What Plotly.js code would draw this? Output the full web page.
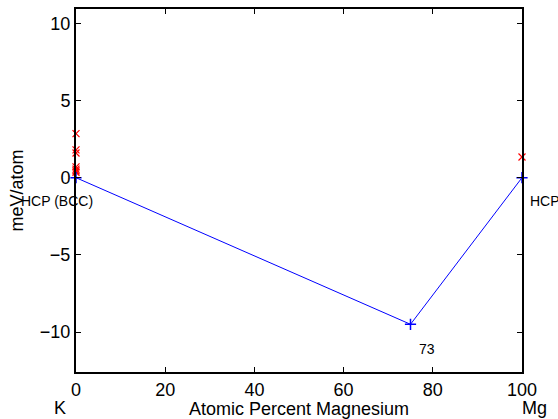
<!DOCTYPE html>
<html>
<head>
<meta charset="utf-8">
<script src="https://cdn.plot.ly/plotly-3.0.1.min.js"></script>
<style>html,body{margin:0;padding:0;background:#fff;}#chart{width:558px;height:419px;}</style>
</head>
<body>
<div id="chart"></div>
<script>
// Convex hull (ground-state line)
const hullX = [0, 75, 100];
const hullY = [0, -9.5, 0];
// Other computed structures (above hull)
const otherX = [0, 0, 0, 0, 0, 0, 0, 100];
const otherY = [2.85, 1.8, 1.6, 0.7, 0.55, 0.45, 0.35, 1.34];
// Labels
const hullLabels = ["HCP (BCC)", "73", "HCP"];
const labelX = [-12.6, 78.6, 101.6];
const labelY = [-1.52, -11.1, -1.52];
const endLabels = ["K", "Mg"];
const endLabelX = [-3.6, 102.9];
const xTicks = [0, 20, 40, 60, 80, 100];
const yTicks = [-10, -5, 0, 5, 10];
const xMin = 0, xMax = 100;

const font = "Liberation Sans, Arial, Helvetica, sans-serif";
const toPaper = v => (v - xMin) / (xMax - xMin);

const traces = [
  {
    x: otherX, y: otherY, mode: "markers", type: "scatter",
    marker: {symbol: "x-thin", size: 7, line: {color: "#ff0000", width: 1.2}},
    cliponaxis: false, hoverinfo: "skip"
  },
  {
    x: hullX, y: hullY, mode: "lines+markers", type: "scatter",
    line: {color: "#0000ff", width: 1},
    marker: {symbol: "cross-thin", size: 8, line: {color: "#0000ff", width: 1.5}},
    cliponaxis: false, hoverinfo: "skip"
  }
];

const annFont = {size: 14, color: "#000", family: font};
const annotations = [
  {x: toPaper(labelX[0]), xref: "paper", y: labelY[0], yref: "y", text: hullLabels[0], xanchor: "left", yanchor: "middle", showarrow: false, font: annFont, borderpad: 0},
  {x: labelX[1], xref: "x", y: labelY[1], yref: "y", text: hullLabels[1], xanchor: "center", yanchor: "middle", showarrow: false, font: annFont, borderpad: 0},
  {x: toPaper(labelX[2]), xref: "paper", y: labelY[2], yref: "y", text: hullLabels[2], xanchor: "left", yanchor: "middle", showarrow: false, font: annFont, borderpad: 0},
  {x: toPaper(endLabelX[0]), xref: "paper", y: -0.099, yref: "paper", text: endLabels[0], xanchor: "center", yanchor: "middle", showarrow: false, font: {size: 18, color: "#000", family: font}, borderpad: 0},
  {x: toPaper(endLabelX[1]), xref: "paper", y: -0.099, yref: "paper", text: endLabels[1], xanchor: "center", yanchor: "middle", showarrow: false, font: {size: 18, color: "#000", family: font}, borderpad: 0}
];

const layout = {
  width: 558, height: 419,
  margin: {l: 76, r: 36, t: 9, b: 47},
  paper_bgcolor: "#fff", plot_bgcolor: "#fff",
  showlegend: false,
  font: {family: font, size: 18, color: "#000"},
  xaxis: {
    range: [xMin, xMax], tickvals: xTicks, ticks: "inside", ticklen: 5, tickwidth: 1, tickcolor: "#000",
    showline: true, linecolor: "#000", linewidth: 2, mirror: "ticks", showgrid: false, zeroline: false,
    tickfont: {size: 18, family: font},
    title: {text: "Atomic Percent Magnesium", font: {size: 18, family: font}, standoff: 2}
  },
  yaxis: {
    range: [-12.59, 10.93], tickvals: yTicks, ticks: "inside", ticklen: 5, tickwidth: 1, tickcolor: "#000",
    showline: true, linecolor: "#000", linewidth: 2, mirror: "ticks", showgrid: false, zeroline: false,
    tickfont: {size: 18, family: font},
    title: {text: "meV/atom", font: {size: 18, family: font}, standoff: 12}
  },
  annotations: annotations
};

Plotly.newPlot("chart", traces, layout, {staticPlot: true, displayModeBar: false});
</script>
</body>
</html>
